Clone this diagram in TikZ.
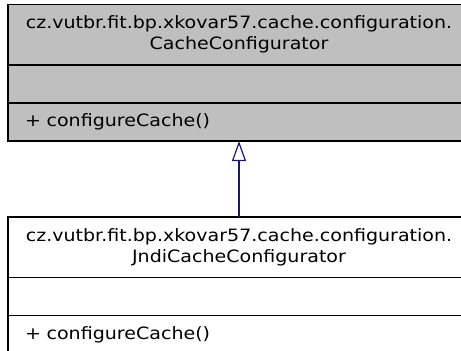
\documentclass[tikz,border=0pt]{standalone}
\usepackage{fontspec}
\usepackage{tikz}
\usetikzlibrary{arrows.meta,positioning}
\newfontfamily\classfont[FakeStretch=1.12]{DejaVu Sans}
\definecolor{classgray}{RGB}{191,191,191}
\definecolor{edgeblue}{RGB}{25,25,112}

\begin{document}
\begin{tikzpicture}[x=1pt, y=-1pt,
  part/.style={draw, line width=1.2pt, outer sep=0pt, inner xsep=17pt, text width=428pt,
    font=\fontsize{17}{21}\selectfont\classfont},
  title/.style={part, align=center, minimum height=60.5pt},
  member/.style={part, align=left, minimum height=38pt}]
\useasboundingbox (0,0) rectangle (461,351);
\clip (0,0) rectangle (461,351);
\node [title, fill=classgray, anchor=north west] (baseName) at (8,4.5) {cz.vutbr.fit.bp.xkovar57.cache.configuration.\\CacheConfigurator};
\node [member, fill=classgray, below=0pt of baseName] (baseAttr) {};
\node [member, fill=classgray, below=0pt of baseAttr] (baseOps) {+ configureCache()};
\node [title, anchor=north west] (jndiName) at (8,217) {cz.vutbr.fit.bp.xkovar57.cache.configuration.\\JndiCacheConfigurator};
\node [member, below=0pt of jndiName] (jndiAttr) {};
\node [member, below=0pt of jndiAttr] (jndiOps) {+ configureCache()};
\draw [edgeblue, line width=1.2pt, -{Triangle[open, width=14pt, length=20pt]}] (jndiName.north) -- (baseOps.south);
\end{tikzpicture}
\end{document}
